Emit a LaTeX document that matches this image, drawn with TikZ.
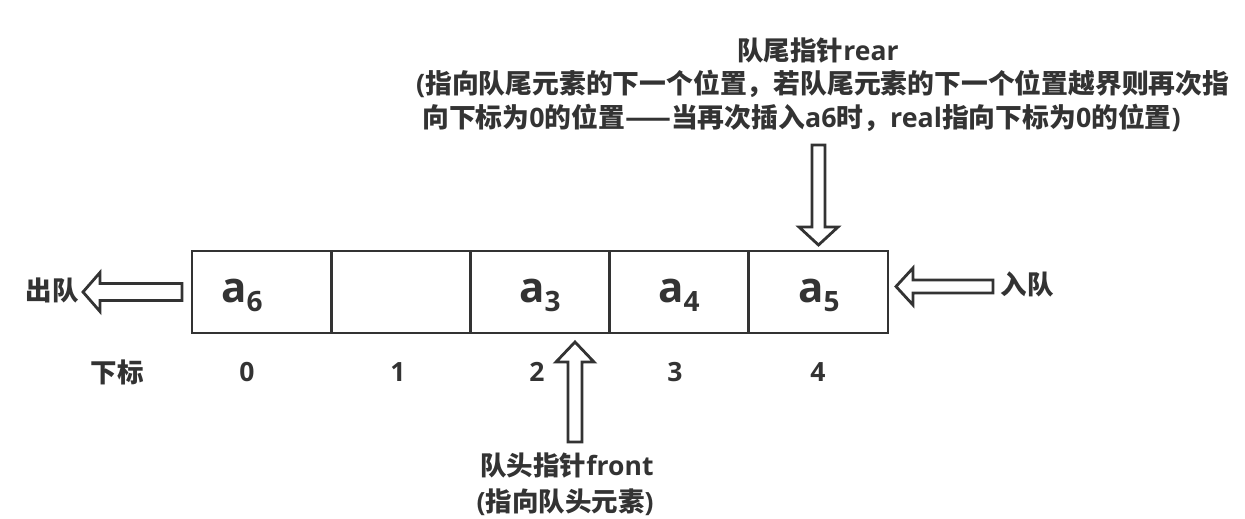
\documentclass[tikz,border=0pt]{standalone}
\usepackage{fontspec}
\setmainfont{Noto Sans CJK SC}
\newfontfamily\la{Open Sans}
\definecolor{ink}{HTML}{333333}
\newcommand\subdig[1]{\raisebox{-9bp}{\fontsize{28bp}{28bp}\selectfont #1}}
\tikzset{
  txt/.style={inner sep=0pt, text=ink, font=\fontsize{26.5bp}{34bp}\selectfont\bfseries},
  desc/.style={inner sep=0pt, text=ink, font=\fontsize{26.8bp}{34bp}\selectfont\bfseries},
  lab/.style={inner sep=0pt, text=ink, font=\la\fontsize{42bp}{42bp}\selectfont\bfseries},
  cell/.style={draw=ink, line width=2.8bp, minimum width=139.2bp, minimum height=82bp, inner sep=0pt},
  blk/.style={draw=ink, line width=2.8bp, fill=white, line join=miter},
}
\begin{document}
\begin{tikzpicture}[x=1bp,y=-1bp]
\useasboundingbox (0,0) rectangle (1245,519);
% cells
\node[cell] (c0) at (261.6,292) {};
\node[cell] (c1) at (400.8,292) {};
\node[cell] (c2) at (540,292) {};
\node[cell] (c3) at (679.2,292) {};
\node[cell] (c4) at (818.4,292) {};
% cell labels
\node[lab, anchor=base] (l0) at (242,303) {a\subdig{6}};
\node[lab, anchor=base] (l2) at (540,303) {a\subdig{3}};
\node[lab, anchor=base] (l3) at (679,303) {a\subdig{4}};
\node[lab, anchor=base] (l4) at (819,303) {a\subdig{5}};
% index row
\node[txt] (xb) at (117,372) {下标};
\node[txt] (i0) at (247,372) {\la 0};
\node[txt] (i1) at (398,372) {\la 1};
\node[txt] (i2) at (537,372) {\la 2};
\node[txt] (i3) at (675,372) {\la 3};
\node[txt] (i4) at (818,372) {\la 4};
% dequeue / enqueue labels
\node[txt] (out) at (52,290) {出队};
\node[txt] (in) at (1027,284) {入队};
% rear text
\node[txt] (rt) at (818,51) {队尾指针{\la rear}};
\node[desc, anchor=west] (rd1) at (416,84) {{\la(}指向队尾元素的下一个位置，若队尾元素的下一个位置越界则再次指};
\node[desc, anchor=west] (rd2) at (422,118) {向下标为{\la 0}的位置——当再次插入{\la a6}时，{\la real}指向下标为{\la 0}的位置{\la)}};
% front text
\node[txt] (ft) at (567,466) {队头指针{\la front}};
\node[txt] (fd) at (565,502) {{\la(}指向队头元素{\la)}};
% block arrows
\draw[blk] (812,145) -- (825,145) -- (825,227) -- (838,227) -- (818.5,245) -- (799,227) -- (812,227) -- cycle;
\draw[blk] (568,442) -- (582,442) -- (582,362) -- (594,362) -- (575,342) -- (556,362) -- (568,362) -- cycle;
\draw[blk] (182,283.5) -- (182,300.5) -- (100,300.5) -- (100,311.5) -- (83,292) -- (100,272.5) -- (100,283.5) -- cycle;
\draw[blk] (993,280) -- (913,280) -- (913,268) -- (896,286.5) -- (913,305) -- (913,293) -- (993,293) -- cycle;
\end{tikzpicture}
\end{document}
